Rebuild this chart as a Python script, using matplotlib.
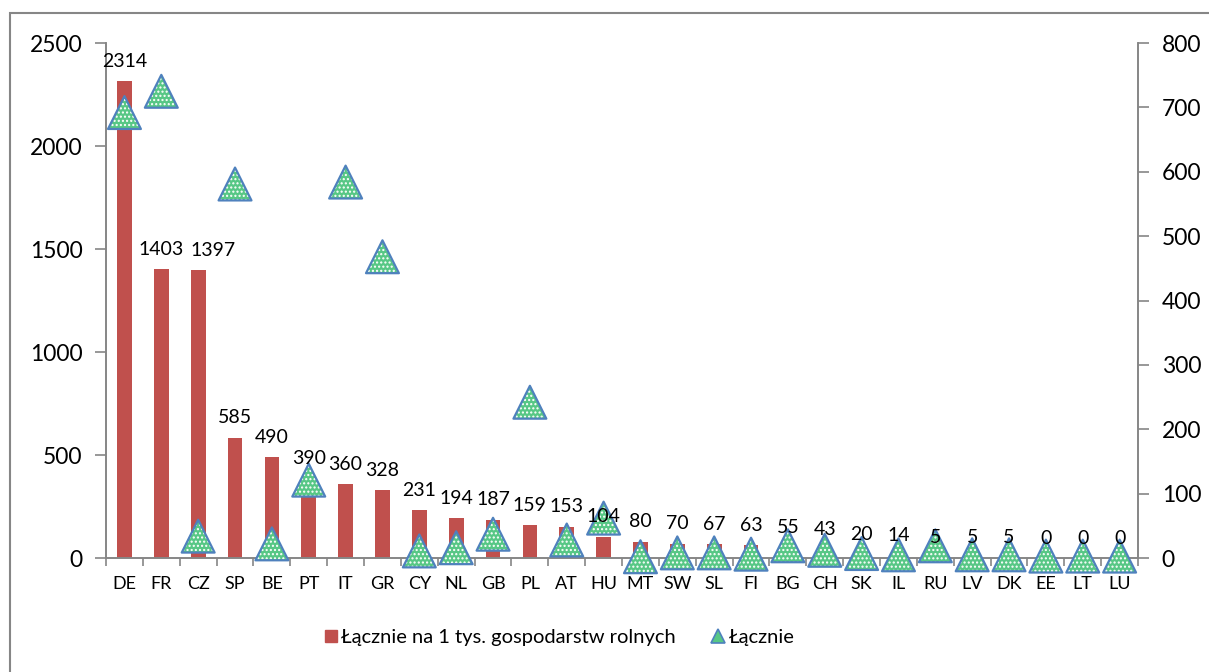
import matplotlib.pyplot as plt
from matplotlib.patches import Rectangle
from matplotlib.lines import Line2D
import numpy as np

plt.rcParams['font.family'] = ['Lato', 'DejaVu Sans']

countries = ['DE', 'FR', 'CZ', 'SP', 'BE', 'PT', 'IT', 'GR', 'CY', 'NL', 'GB', 'PL', 'AT', 'HU',
             'MT', 'SW', 'SL', 'FI', 'BG', 'CH', 'SK', 'IL', 'RU', 'LV', 'DK', 'EE', 'LT', 'LU']
per_1000_farms = [2314, 1403, 1397, 585, 490, 390, 360, 328, 231, 194, 187, 159, 153, 104,
                  80, 70, 67, 63, 55, 43, 20, 14, 5, 5, 5, 0, 0, 0]
total = [692, 725, 34, 581, 22, 121, 584, 468, 11, 16, 37, 242, 28, 62,
         2, 8, 8, 6, 19, 12, 7, 5, 19, 5, 5, 3, 3, 3]

left_ticks = [0, 500, 1000, 1500, 2000, 2500]
right_ticks = [0, 100, 200, 300, 400, 500, 600, 700, 800]

# data label nudged sideways in the original to avoid its neighbour
label_shift = {'CZ': 11}

bar_color = '#C0504D'
tri_fill = '#57C785'
tri_edge = '#4F81BD'
axis_grey = '#868686'

fig = plt.figure(figsize=(12.09, 6.72), dpi=100)
ax = fig.add_axes([0.0877, 0.1696, 0.8536, 0.7664])
x = np.arange(len(countries))

ax.bar(x, per_1000_farms, width=0.4, color=bar_color, zorder=2)

ax.set_xlim(-0.5, len(countries) - 0.5)
ax.set_ylim(0, 2500)
ax.set_yticks(left_ticks)
ax.set_xticks(x)
ax.set_xticklabels(countries, fontsize=13)
ax.set_xticks(np.arange(len(countries) + 1) - 0.5, minor=True)
ax.tick_params(axis='x', which='major', length=0, pad=13)
ax.tick_params(axis='x', which='minor', length=6, color=axis_grey, width=1.2)
ax.tick_params(axis='y', length=8, color=axis_grey, width=1.2, labelsize=16.5, pad=9)
ax.spines['top'].set_visible(False)
for s in ['left', 'bottom', 'right']:
    ax.spines[s].set_color(axis_grey)
    ax.spines[s].set_linewidth(1.2)

ax2 = ax.twinx()
ax2.set_ylim(0, 800)
ax2.set_yticks(right_ticks)
ax2.tick_params(axis='y', length=8, color=axis_grey, width=1.2, labelsize=16.5, pad=9)
ax2.spines['top'].set_visible(False)
for s in ['left', 'bottom', 'right']:
    ax2.spines[s].set_color(axis_grey)
    ax2.spines[s].set_linewidth(1.2)

plt.rcParams['hatch.color'] = 'white'
plt.rcParams['hatch.linewidth'] = 1.0
ax2.scatter(x, total, marker='^', s=560, facecolor=tri_fill, edgecolor='none',
            hatch='....', zorder=3, clip_on=False)
ax2.scatter(x, total, marker='^', s=560, facecolor='none', edgecolor=tri_edge,
            linewidth=1.6, zorder=4, clip_on=False)

# data labels drawn on the top axes so they sit over the markers
for xi, name, v in zip(x, countries, per_1000_farms):
    ax2.annotate(str(v), xy=(xi, v), xycoords=ax.transData,
                 xytext=(label_shift.get(name, 0), 8),
                 textcoords='offset points', ha='center', va='bottom',
                 fontsize=14, zorder=5, annotation_clip=False)

handles = [
    Line2D([], [], marker='s', color='none', markerfacecolor=bar_color,
           markeredgecolor=bar_color, markersize=8),
    Line2D([], [], marker='^', color='none', markerfacecolor=tri_fill,
           markeredgecolor=tri_edge, markersize=10, markeredgewidth=1.2),
]
fig.legend(handles, ['Łącznie na 1 tys. gospodarstw rolnych', 'Łącznie'],
           loc='center', bbox_to_anchor=(0.463, 0.052), ncol=2, frameon=False,
           fontsize=14.5, handlelength=0.6, handletextpad=0.2, columnspacing=1.8)

fig.patches.append(Rectangle((10 / 1209, -0.1), 1.2, 1.1 - 13 / 672,
                             transform=fig.transFigure, fill=False,
                             edgecolor=axis_grey, linewidth=1.5))

fig.savefig('out.png', dpi=100)
